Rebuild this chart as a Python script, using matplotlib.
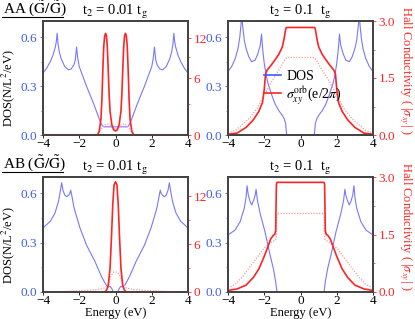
import numpy as np
import matplotlib
matplotlib.use('Agg')
import matplotlib.pyplot as plt
from matplotlib.lines import Line2D

plt.rcParams['font.family'] = ['Liberation Serif', 'DejaVu Serif']
plt.rcParams['mathtext.fontset'] = 'stix'

# ---- AA, t2 = 0.01 tg ----
aa1_dos_x = [-4.0, -3.8, -3.6, -3.45, -3.32, -3.27, -3.22, -3.17, -3.1, -3.0, -2.8, -2.6, -2.45, -2.3,
             -2.22, -2.15, -2.08, -2.0, -1.9, -1.8, -1.6, -1.4, -1.2, -1.0, -0.85, -0.75, -0.65,
             0.65, 0.75, 0.85, 1.0, 1.2, 1.4, 1.6, 1.8, 1.9, 2.0, 2.08, 2.15, 2.22, 2.3, 2.45,
             2.6, 2.8, 3.0, 3.1, 3.17, 3.22, 3.27, 3.32, 3.45, 3.6, 3.8, 4.0]
aa1_dos_y = [0.38, 0.41, 0.45, 0.49, 0.54, 0.57, 0.625, 0.56, 0.51, 0.47, 0.42, 0.40, 0.405, 0.43,
             0.46, 0.54, 0.47, 0.42, 0.39, 0.36, 0.30, 0.245, 0.19, 0.13, 0.085, 0.06, 0.05,
             0.05, 0.06, 0.085, 0.13, 0.19, 0.245, 0.30, 0.36, 0.39, 0.42, 0.47, 0.54, 0.46, 0.43, 0.405,
             0.40, 0.42, 0.47, 0.51, 0.56, 0.625, 0.57, 0.54, 0.49, 0.45, 0.41, 0.38]
aa1_sig_x = [-4.0, -1.0, -0.9, -0.8, -0.75, -0.7, -0.65, -0.6, -0.55, -0.5, -0.45, -0.4, -0.35, -0.3,
             -0.2, -0.1, 0.0, 0.1, 0.2, 0.3, 0.35, 0.4, 0.45, 0.5, 0.55, 0.6, 0.65, 0.7, 0.75,
             0.8, 0.9, 1.0, 4.0]
aa1_sig_y = [0.0, 0.0, 0.3, 1.5, 3.5, 7.0, 10.5, 12.3, 12.8, 12.4, 10.5, 7.0, 4.0, 2.2,
             0.9, 0.45, 0.35, 0.45, 0.9, 2.2, 4.0, 7.0, 10.5, 12.4, 12.8, 12.3, 10.5, 7.0, 3.5,
             1.5, 0.3, 0.0, 0.0]
aa1_dot_x = [-4.0, -1.1, -0.9, -0.7, -0.5, -0.3, -0.15, 0.0, 0.15, 0.3, 0.5, 0.7, 0.9, 1.1, 4.0]
aa1_dot_y = [0.05, 0.05, 0.3, 0.7, 1.0, 0.9, 0.6, 0.5, 0.6, 0.9, 1.0, 0.7, 0.3, 0.05, 0.05]

# ---- AA, t2 = 0.1 tg ----
aa2_dos_x = [-4.0, -3.8, -3.6, -3.45, -3.35, -3.28, -3.25, -3.2, -3.1, -3.0, -2.85, -2.7, -2.5, -2.35,
             -2.22, -2.15, -2.08, -2.0, -1.9, -1.8, -1.6, -1.4, -1.2, -1.0, -0.9, -0.82, -0.78, -0.76,
             0.76, 0.78, 0.82, 0.9, 1.0, 1.2, 1.4, 1.6, 1.8, 1.9, 2.0, 2.08, 2.15, 2.22, 2.35, 2.5,
             2.7, 2.85, 3.0, 3.1, 3.2, 3.25, 3.28, 3.35, 3.45, 3.6, 3.8, 4.0]
aa2_dos_y = [0.39, 0.42, 0.47, 0.53, 0.60, 0.68, 0.78, 0.68, 0.58, 0.53, 0.48, 0.45, 0.46, 0.50,
             0.55, 0.62, 0.52, 0.44, 0.37, 0.32, 0.25, 0.19, 0.15, 0.12, 0.10, 0.07, 0.02, 0.0,
             0.0, 0.02, 0.07, 0.10, 0.12, 0.15, 0.19, 0.25, 0.32, 0.37, 0.44, 0.52, 0.62, 0.55, 0.50, 0.46,
             0.45, 0.48, 0.53, 0.58, 0.68, 0.78, 0.68, 0.60, 0.53, 0.47, 0.42, 0.39]
aa2_sig_x = [-4.0, -3.5, -3.0, -2.6, -2.3, -2.1, -2.0, -1.93, -1.85, -1.6, -1.4, -1.2, -1.0, -0.9,
             -0.82, -0.78, 0.78, 0.82, 0.9, 1.0, 1.2, 1.4, 1.6, 1.85, 1.93, 2.0, 2.1, 2.3, 2.6,
             3.0, 3.5, 4.0]
aa2_sig_y = [0.02, 0.05, 0.2, 0.4, 0.62, 0.85, 1.2, 1.6, 1.7, 1.85, 1.98, 2.12, 2.32, 2.55,
             2.78, 2.83, 2.83, 2.78, 2.55, 2.32, 2.12, 1.98, 1.85, 1.7, 1.6, 1.2, 0.85, 0.62, 0.4,
             0.2, 0.05, 0.02]
aa2_dot_x = [-4.0, -3.6, -3.2, -2.8, -2.4, -2.0, -1.6, -1.2, -0.9, -0.75, 0.75, 0.9, 1.2, 1.6, 2.0,
             2.4, 2.8, 3.2, 3.6, 4.0]
aa2_dot_y = [0.05, 0.12, 0.28, 0.45, 0.7, 1.05, 1.4, 1.7, 1.95, 2.04, 2.04, 1.95, 1.7, 1.4, 1.05,
             0.7, 0.45, 0.28, 0.12, 0.05]

# ---- AB, t2 = 0.01 tg ----
ab1_dos_x = [-4.0, -3.6, -3.34, -3.15, -3.05, -2.97, -2.9, -2.8, -2.69, -2.58, -2.52, -2.47, -2.4,
             -2.3, -2.23, -1.96, -1.6, -1.13, -0.77, -0.52, -0.4, -0.3, -0.2, -0.12, 0.0,
             0.12, 0.2, 0.3, 0.4, 0.52, 0.77, 1.13, 1.6, 1.96, 2.23, 2.3, 2.4, 2.47, 2.52, 2.58,
             2.69, 2.8, 2.9, 2.97, 3.05, 3.15, 3.34, 3.6, 4.0]
ab1_dos_y = [0.39, 0.43, 0.48, 0.55, 0.61, 0.665, 0.62, 0.59, 0.58, 0.59, 0.60, 0.62, 0.58,
             0.52, 0.49, 0.39, 0.286, 0.185, 0.093, 0.043, 0.03, 0.035, 0.02, 0.0, 0.0,
             0.0, 0.02, 0.035, 0.03, 0.043, 0.093, 0.185, 0.286, 0.39, 0.49, 0.52, 0.58, 0.62, 0.60, 0.59,
             0.58, 0.59, 0.62, 0.665, 0.61, 0.55, 0.48, 0.43, 0.39]
ab1_sig_x = [-4.0, -0.6, -0.5, -0.4, -0.3, -0.22, -0.15, -0.08, 0.0, 0.08, 0.15, 0.22, 0.3, 0.4,
             0.5, 0.6, 4.0]
ab1_sig_y = [0.0, 0.0, 0.2, 0.8, 3.0, 7.0, 11.0, 13.4, 13.8, 13.4, 11.0, 7.0, 3.0, 0.8,
             0.2, 0.0, 0.0]
ab1_dot_x = [-4.0, -3.0, -2.0, -1.0, -0.6, -0.4, -0.25, -0.1, 0.0, 0.1, 0.25, 0.4, 0.6, 1.0, 2.0,
             3.0, 4.0]
ab1_dot_y = [0.02, 0.05, 0.15, 0.3, 0.5, 1.0, 2.0, 2.5, 2.5, 2.5, 2.0, 1.0, 0.5, 0.3, 0.15,
             0.05, 0.02]

# ---- AB, t2 = 0.1 tg ----
ab2_dos_x = [-4.0, -3.61, -3.33, -3.1, -3.0, -2.95, -2.88, -2.78, -2.69, -2.58, -2.5, -2.45, -2.38,
             -2.23, -1.96, -1.68, -1.5, -1.37, -1.3, 1.3, 1.37, 1.5, 1.68, 1.96, 2.23, 2.38, 2.45,
             2.5, 2.58, 2.69, 2.78, 2.88, 2.95, 3.0, 3.1, 3.33, 3.61, 4.0]
ab2_dos_y = [0.347, 0.377, 0.428, 0.51, 0.58, 0.647, 0.59, 0.55, 0.53, 0.56, 0.59, 0.625, 0.56,
             0.479, 0.367, 0.225, 0.144, 0.063, 0.0, 0.0, 0.063, 0.144, 0.225, 0.367, 0.479, 0.56, 0.625,
             0.59, 0.56, 0.53, 0.55, 0.59, 0.647, 0.58, 0.51, 0.428, 0.377, 0.347]
ab2_sig_x = [-4.0, -3.5, -3.0, -2.6, -2.3, -2.0, -1.8, -1.65, -1.5, -1.42, -1.37, -1.35, -1.33, -1.3,
             1.3, 1.33, 1.35, 1.37, 1.42, 1.5, 1.65, 1.8, 2.0, 2.3, 2.6, 3.0, 3.5, 4.0]
ab2_sig_y = [0.04, 0.08, 0.18, 0.38, 0.6, 0.93, 1.18, 1.38, 1.48, 1.5, 1.6, 2.2, 2.8, 2.86,
             2.86, 2.8, 2.2, 1.6, 1.5, 1.48, 1.38, 1.18, 0.93, 0.6, 0.38, 0.18, 0.08, 0.04]
ab2_dot_x = [-4.0, -3.6, -3.2, -2.8, -2.4, -2.0, -1.6, -1.4, -1.33, -1.3, 1.3, 1.33, 1.4, 1.6, 2.0,
             2.4, 2.8, 3.2, 3.6, 4.0]
ab2_dot_y = [0.1, 0.2, 0.4, 0.65, 0.9, 1.15, 1.3, 1.35, 1.4, 2.05, 2.05, 1.4, 1.35, 1.3, 1.15,
             0.9, 0.65, 0.4, 0.2, 0.1]

x_ticks = [-4, -2, 0, 2, 4]
x_labels = ['\u22124', '\u22122', '0', '2', '4']
dos_ticks = [0.0, 0.3, 0.6]
dos_labels = ['0.0', '0.3', '0.6']

BLUE_LINE = '#7878ff'
BLUE_TXT = '#3c5cff'
RED = '#ff2424'
PINK = '#ff9a9a'
FRAME = '#444444'
TICK_FS = 9.5

fig = plt.figure(figsize=(4.15, 3.19), dpi=100)
W, H = 415.0, 319.0


def rect(l, t, r, b):
    return [l / W, 1 - b / H, (r - l) / W, (b - t) / H]


def style(ax, color):
    for s in ax.spines.values():
        s.set_color(FRAME)
        s.set_linewidth(1.3)
    ax.tick_params(axis='y', which='both', colors=color, labelsize=TICK_FS, direction='out', pad=1.5)
    ax.tick_params(axis='y', which='major', length=2.5, width=0.6)
    ax.tick_params(axis='y', which='minor', length=1.5, width=0.5)


def panel(r, dx, dy, sx, sy, ox, oy, title, left, bottom, right_kind):
    ax = fig.add_axes(r)
    ax.plot(dx, dy, color=BLUE_LINE, lw=0.8)
    ax.set_xlim(-4, 4)
    ax.set_ylim(0, 0.7)
    ax.set_xticks(x_ticks)
    ax.set_xticklabels(x_labels)
    ax.set_yticks(dos_ticks)
    ax.set_yticklabels(dos_labels)
    ax.set_yticks([0.15, 0.45], minor=True)
    ax.tick_params(axis='x', colors='black', labelsize=TICK_FS, direction='out', length=2,
                   width=0.6, pad=0.5)
    style(ax, BLUE_TXT)

    ax2 = ax.twinx()
    ax2.plot(ox, oy, linestyle=(0, (1, 1.2)), color=PINK, lw=0.9)
    ax2.plot(sx, sy, color=RED, lw=1.2)
    if right_kind == 'aa':
        ax2.set_yscale('function', functions=(lambda y: np.log1p(np.asarray(y) / 12.0),
                                               lambda v: 12.0 * np.expm1(v)))
        ax2.set_ylim(0, 15.1)
        ax2.set_yticks([0, 6, 12])
        ax2.set_yticklabels(['0', '6', '12'])
        ax2.set_yticks([3, 9], minor=True)
    elif right_kind == 'ab':
        ax2.set_ylim(0, 14.4)
        ax2.set_yticks([0, 6, 12])
        ax2.set_yticklabels(['0', '6', '12'])
        ax2.set_yticks([3, 9], minor=True)
    else:
        ax2.set_ylim(0, 3.0)
        ax2.set_yticks([0.0, 1.5, 3.0])
        ax2.set_yticklabels(['0.0', '1.5', '3.0'])
        ax2.set_yticks([0.75, 2.25], minor=True)
    style(ax2, RED)
    ax2.set_xlim(-4, 4)

    ax.set_title(title, fontsize=10.5, pad=2)
    if left:
        ax.set_ylabel('DOS(N/L$^2$/eV)', fontsize=9)
        ax.yaxis.set_label_coords(-0.18, 0.41)
    if right_kind == 'hall':
        ax2.set_ylabel('Hall Conductivity ( |$\\sigma_{xy}$| )', fontsize=9, color=RED,
                       rotation=270, va='center')
        ax2.yaxis.set_label_coords(1.225, 0.57)
    if bottom:
        cx = (ax.get_position().x0 + ax.get_position().x1) / 2
        fig.text(cx, 1 - 313 / H, 'Energy (eV)', fontsize=9, ha='center', va='center')
    return ax, ax2


panel(rect(43, 21, 188, 135), aa1_dos_x, aa1_dos_y, aa1_sig_x, aa1_sig_y, aa1_dot_x, aa1_dot_y,
      't$_2$ = 0.01 t$_\\mathrm{g}$', True, False, 'aa')
axb, axb2 = panel(rect(228, 21, 373, 135), aa2_dos_x, aa2_dos_y, aa2_sig_x, aa2_sig_y,
                  aa2_dot_x, aa2_dot_y, 't$_2$ = 0.1  t$_\\mathrm{g}$', False, False, 'hall')
panel(rect(43, 177, 188, 292), ab1_dos_x, ab1_dos_y, ab1_sig_x, ab1_sig_y, ab1_dot_x, ab1_dot_y,
      't$_2$ = 0.01 t$_\\mathrm{g}$', True, True, 'ab')
panel(rect(228, 177, 373, 292), ab2_dos_x, ab2_dos_y, ab2_sig_x, ab2_sig_y, ab2_dot_x, ab2_dot_y,
      't$_2$ = 0.1  t$_\\mathrm{g}$', False, True, 'hall')

axb2.legend([Line2D([], [], color='#3c5cff', lw=1.2), Line2D([], [], color=RED, lw=1.2)],
            ['DOS', '$\\sigma^{\\rm orb}_{xy}$(e/2$\\pi$)'],
            loc='upper left', bbox_to_anchor=(0.25, 0.57), frameon=False, fontsize=10,
            handlelength=1.2, handletextpad=0.4, labelspacing=0.05, borderpad=0, borderaxespad=0)

fig.text(3 / W, 1 - 9 / H, 'AA ($\\tilde{\\mathrm{G}}/\\tilde{\\mathrm{G}}$)', fontsize=11,
         ha='left', va='center')
fig.text(3 / W, 1 - 164 / H, 'AB ($\\tilde{\\mathrm{G}}/\\tilde{\\mathrm{G}}$)', fontsize=11,
         ha='left', va='center')
fig.add_artist(Line2D([2 / W, 63 / W], [1 - 17 / H, 1 - 17 / H], color='black', lw=0.8))
fig.add_artist(Line2D([2 / W, 63 / W], [1 - 172 / H, 1 - 172 / H], color='black', lw=0.8))

fig.savefig('out.png', dpi=100)
